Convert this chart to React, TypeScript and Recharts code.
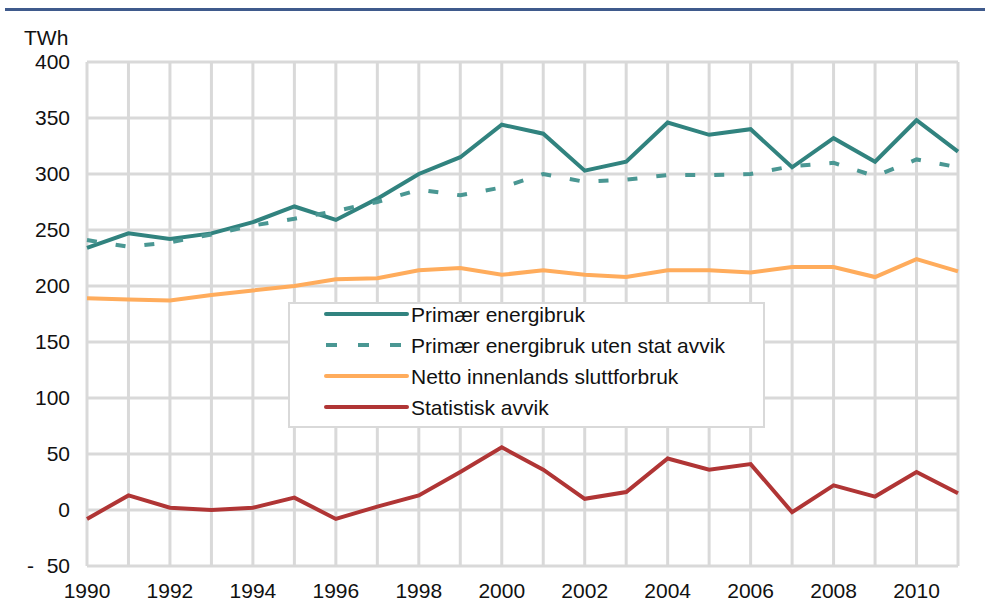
import React from 'react';
import { LineChart, Line, XAxis, YAxis, CartesianGrid, Legend } from 'recharts';

const years = [
  1990, 1991, 1992, 1993, 1994, 1995, 1996, 1997, 1998, 1999, 2000,
  2001, 2002, 2003, 2004, 2005, 2006, 2007, 2008, 2009, 2010, 2011,
];
const primaer = [234, 247, 242, 247, 257, 271, 259, 278, 300, 315, 344, 336, 303, 311, 346, 335, 340, 306, 332, 311, 348, 320];
const utenAvvik = [241, 235, 239, 246, 254, 260, 267, 275, 286, 281, 288, 300, 293, 295, 299, 299, 300, 307, 310, 298, 313, 306];
const netto = [189, 188, 187, 192, 196, 200, 206, 207, 214, 216, 210, 214, 210, 208, 214, 214, 212, 217, 217, 208, 224, 213];
const avvik = [-8, 13, 2, 0, 2, 11, -8, 3, 13, 34, 56, 36, 10, 16, 46, 36, 41, -2, 22, 12, 34, 15];
const yTicks = [-50, 0, 50, 100, 150, 200, 250, 300, 350, 400];

const data = years.map((year, i) => ({
  year,
  primaer: primaer[i],
  utenAvvik: utenAvvik[i],
  netto: netto[i],
  avvik: avvik[i],
}));

const FONT = '"Liberation Sans", Arial, sans-serif';
const FS = 21;

const series = [
  { key: 'primaer', name: 'Primær energibruk', color: '#31837f', dash: undefined },
  { key: 'utenAvvik', name: 'Primær energibruk uten stat avvik', color: '#4a9793', dash: '10 19' },
  { key: 'netto', name: 'Netto innenlands sluttforbruk', color: '#ffac5c', dash: undefined },
  { key: 'avvik', name: 'Statistisk avvik', color: '#b03535', dash: undefined },
];

const YTick = (props: any) => {
  const { y, payload } = props;
  const v = payload.value as number;
  if (v < 0) {
    return (
      <g>
        <text x={34} y={y} dy={7} textAnchor="end" fontSize={FS} fill="#111" fontFamily={FONT}>-</text>
        <text x={70} y={y} dy={7} textAnchor="end" fontSize={FS} fill="#111" fontFamily={FONT}>{Math.abs(v)}</text>
      </g>
    );
  }
  return (
    <text x={70} y={y} dy={7} textAnchor="end" fontSize={FS} fill="#111" fontFamily={FONT}>{v}</text>
  );
};

const XTick = (props: any) => {
  const { x, payload } = props;
  if (payload.value % 2 !== 0) return null;
  return (
    <text x={x} y={598} textAnchor="middle" fontSize={FS} fill="#111" fontFamily={FONT}>{payload.value}</text>
  );
};

const LegendBox = () => (
  <div
    style={{
      position: 'relative',
      width: 477,
      height: 126,
      boxSizing: 'border-box',
      border: '2px solid #d9d9d9',
      background: '#fff',
      fontFamily: FONT,
      fontSize: FS,
      color: '#111',
    }}
  >
    {series.map((s, i) => (
      <div key={s.key} style={{ position: 'absolute', left: 0, top: 10 + i * 31 - 14, height: 28, width: 470 }}>
        <svg width={90} height={28} style={{ position: 'absolute', left: 34, top: 0 }}>
          <line
            x1={2}
            x2={s.dash ? 84 : 83}
            y1={14}
            y2={14}
            stroke={s.color}
            strokeWidth={4}
            strokeLinecap={s.dash ? 'butt' : 'round'}
            strokeDasharray={s.dash ? '11 21' : undefined}
          />
        </svg>
        <span style={{ position: 'absolute', left: 121, top: 3, whiteSpace: 'nowrap', lineHeight: '24px' }}>{s.name}</span>
      </div>
    ))}
  </div>
);

export default function App() {
  return (
    <div style={{ position: 'absolute', left: 0, top: 0, width: 985, height: 616, background: '#fff' }}>
      <div style={{ position: 'absolute', left: 5, top: 8, width: 980, height: 3, background: '#3f5a8c' }} />
      <div
        style={{
          position: 'absolute',
          left: 24,
          top: 26,
          fontFamily: FONT,
          fontSize: FS,
          lineHeight: '24px',
          color: '#111',
        }}
      >
        TWh
      </div>
      <LineChart
        width={985}
        height={616}
        data={data}
        margin={{ top: 62, right: 27, bottom: 0, left: 0 }}
      >
        <CartesianGrid stroke="#d9d9d9" strokeWidth={3} />
        <XAxis
          dataKey="year"
          type="number"
          domain={[1990, 2011]}
          ticks={years}
          interval={0}
          axisLine={false}
          tickLine={false}
          height={50}
          tick={<XTick />}
        />
        <YAxis
          domain={[-50, 400]}
          ticks={yTicks}
          interval={0}
          axisLine={false}
          tickLine={false}
          width={87}
          tick={<YTick />}
        />
        <Legend
          layout="horizontal"
          verticalAlign="middle"
          align="center"
          content={() => <LegendBox />}
          wrapperStyle={{ position: 'absolute', left: 288, top: 302, width: 477, height: 126 }}
        />
        {series.map((s) => (
          <Line
            key={s.key}
            dataKey={s.key}
            name={s.name}
            stroke={s.color}
            strokeWidth={4}
            strokeDasharray={s.dash}
            dot={false}
            activeDot={false}
            isAnimationActive={false}
          />
        ))}
      </LineChart>
    </div>
  );
}
